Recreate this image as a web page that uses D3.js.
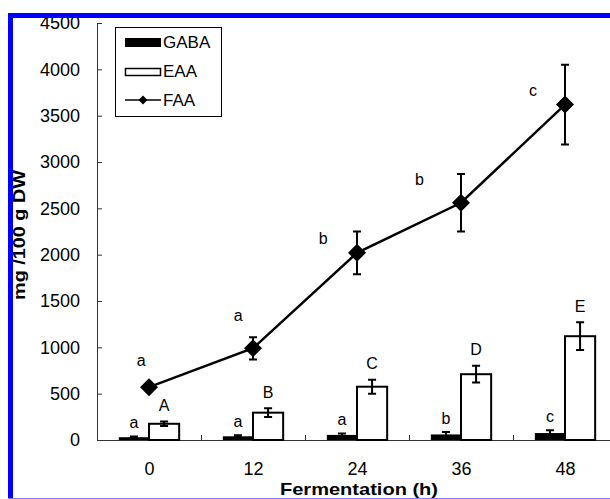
<!DOCTYPE html>
<html>
<head>
<meta charset="utf-8">
<style>
    body { margin: 0; background: #fff; }
    text { font-family: 'Liberation Sans', Arial, sans-serif; fill: #000; }
</style>
</head>
<body>
<script src="https://d3js.org/d3.v7.min.js"></script>
<script>
    // fermentation times (h)
    var hours = [0, 12, 24, 36, 48];

    // GABA, mg/100 g DW
    var gaba = [30, 40, 55, 60, 75];
    var gabaErr = [8, 12, 15, 25, 30];
    var gabaLetters = ['a', 'a', 'a', 'b', 'c'];

    // EAA
    var eaa = [175, 295, 575, 710, 1120];
    var eaaErr = [25, 48, 75, 90, 150];
    var eaaLetters = ['A', 'B', 'C', 'D', 'E'];

    // FAA
    var faa = [570, 990, 2020, 2560, 3620];
    var faaErr = [40, 120, 230, 310, 430];
    var faaLetters = ['a', 'a', 'b', 'b', 'c'];
    // where the FAA letters sit, in hours / mg
    var faaLetterHour = [-0.9, 10.3, 20.1, 31.2, 44.3];
    var faaLetterVal = [860, 1350, 2180, 2815, 3775];

    var yTicks = [0, 500, 1000, 1500, 2000, 2500, 3000, 3500, 4000, 4500];
    var bounds = [6, 18, 30, 42, 54];

    var width = 610, height = 499;

    var svg = d3.select('body').append('svg')
        .attr('width', width)
        .attr('height', height);

    var x = d3.scaleLinear().domain([-6, 54]).range([97, 617]);
    var y = d3.scaleLinear().domain([0, 4500]).range([440, 23]);

    var band = x(12) - x(0);
    var barW = band * 0.29;

    // axes
    var yAxis = svg.append('g')
        .attr('transform', 'translate(' + x(-6) + ',0)')
        .call(d3.axisLeft(y).tickValues(yTicks).tickFormat(d3.format('d'))
            .tickSizeInner(-5).tickSizeOuter(0).tickPadding(17));
    yAxis.selectAll('text').style('font-size', '18px');

    var xAxis = svg.append('g')
        .attr('transform', 'translate(0,' + y(0) + ')')
        .call(d3.axisBottom(x).tickValues(bounds).tickSizeInner(-5).tickSizeOuter(0).tickFormat(''));

    var xLabels = svg.append('g')
        .attr('transform', 'translate(0,' + y(0) + ')')
        .call(d3.axisBottom(x).tickValues(hours).tickSize(0).tickPadding(22));
    xLabels.select('.domain').remove();
    xLabels.selectAll('text').style('font-size', '18px');

    svg.selectAll('.domain, .tick line').attr('stroke', '#333').attr('stroke-width', 1);

    var rows = hours.map((h, i) => ({
        h: h, gaba: gaba[i], gErr: gabaErr[i], gL: gabaLetters[i],
        eaa: eaa[i], eErr: eaaErr[i], eL: eaaLetters[i],
        faa: faa[i], fErr: faaErr[i], fL: faaLetters[i],
        lh: faaLetterHour[i], lv: faaLetterVal[i]
    }));

    // bars
    svg.selectAll('rect.gaba')
        .data(rows)
        .enter().append('rect')
        .attr('class', 'gaba')
        .attr('x', d => x(d.h) - barW)
        .attr('y', d => y(d.gaba))
        .attr('width', barW)
        .attr('height', d => y(0) - y(d.gaba))
        .attr('fill', '#000');

    svg.selectAll('rect.eaa')
        .data(rows)
        .enter().append('rect')
        .attr('class', 'eaa')
        .attr('x', d => x(d.h))
        .attr('y', d => y(d.eaa))
        .attr('width', barW)
        .attr('height', d => y(0) - y(d.eaa))
        .attr('fill', '#fff')
        .attr('stroke', '#000')
        .attr('stroke-width', 2);

    function errBar(g, cx, v, e) {
        var p = 'M' + (cx - 4) + ',' + y(v + e) + 'H' + (cx + 4) +
            'M' + cx + ',' + y(v + e) + 'V' + y(v - e) +
            'M' + (cx - 4) + ',' + y(v - e) + 'H' + (cx + 4);
        g.append('path').attr('d', p).attr('stroke', '#000').attr('stroke-width', 2).attr('fill', 'none');
    }

    var errs = svg.append('g');
    rows.forEach(d => {
        errBar(errs, x(d.h) - barW / 2, d.gaba, d.gErr);
        errBar(errs, x(d.h) + barW / 2, d.eaa, d.eErr);
    });

    // FAA line
    var line = d3.line()
        .x(d => x(d.h))
        .y(d => y(d.faa));

    svg.append('path')
        .datum(rows)
        .attr('d', line)
        .attr('fill', 'none')
        .attr('stroke', '#000')
        .attr('stroke-width', 2.5);

    svg.selectAll('path.dia')
        .data(rows)
        .enter().append('path')
        .attr('class', 'dia')
        .attr('transform', d => 'translate(' + x(d.h) + ',' + y(d.faa) + ')')
        .attr('d', 'M0,-9L9,0L0,9L-9,0Z')
        .attr('fill', '#000');

    var faaErrs = svg.append('g');
    rows.forEach(d => errBar(faaErrs, x(d.h), d.faa, d.fErr));

    // significance letters
    svg.selectAll('text.gl')
        .data(rows)
        .enter().append('text')
        .attr('class', 'gl')
        .attr('x', d => x(d.h) - barW / 2)
        .attr('y', d => y(d.gaba + d.gErr) - 14)
        .attr('dy', '0.35em')
        .attr('text-anchor', 'middle')
        .style('font-size', '16px')
        .text(d => d.gL);

    svg.selectAll('text.el')
        .data(rows)
        .enter().append('text')
        .attr('class', 'el')
        .attr('x', d => x(d.h) + barW / 2)
        .attr('y', d => y(d.eaa + d.eErr) - 16)
        .attr('dy', '0.35em')
        .attr('text-anchor', 'middle')
        .style('font-size', '16px')
        .text(d => d.eL);

    svg.selectAll('text.fl')
        .data(rows)
        .enter().append('text')
        .attr('class', 'fl')
        .attr('x', d => x(d.lh))
        .attr('y', d => y(d.lv))
        .attr('dy', '0.35em')
        .attr('text-anchor', 'middle')
        .style('font-size', '16px')
        .text(d => d.fL);

    // legend
    var lg = svg.append('g');
    lg.append('rect')
        .attr('x', 115.5).attr('y', 27.5).attr('width', 106).attr('height', 89)
        .attr('fill', '#fff').attr('stroke', '#000').attr('stroke-width', 1);
    lg.append('rect').attr('x', 125).attr('y', 38).attr('width', 36).attr('height', 9).attr('fill', '#000');
    lg.append('rect').attr('x', 125.5).attr('y', 68.5).attr('width', 35).attr('height', 7)
        .attr('fill', '#fff').attr('stroke', '#000').attr('stroke-width', 1.5);
    lg.append('line').attr('x1', 125).attr('x2', 161).attr('y1', 100).attr('y2', 100)
        .attr('stroke', '#000').attr('stroke-width', 1.5);
    lg.append('path').attr('transform', 'translate(143,100)').attr('d', 'M0,-4.5L4.5,0L0,4.5L-4.5,0Z').attr('fill', '#000');
    [['GABA', 48], ['EAA', 77], ['FAA', 106]].forEach(t => {
        lg.append('text').attr('x', 163).attr('y', t[1]).style('font-size', '17px').text(t[0]);
    });

    // axis titles
    svg.append('text')
        .attr('transform', 'translate(25,235) rotate(-90)')
        .attr('text-anchor', 'middle')
        .attr('textLength', 130)
        .attr('lengthAdjust', 'spacingAndGlyphs')
        .style('font-size', '17px')
        .style('font-weight', 'bold')
        .text('mg /100 g DW');

    svg.append('text')
        .attr('x', 359)
        .attr('y', 495)
        .attr('text-anchor', 'middle')
        .attr('textLength', 158)
        .attr('lengthAdjust', 'spacingAndGlyphs')
        .style('font-size', '17px')
        .style('font-weight', 'bold')
        .text('Fermentation (h)');

    // blue frame of the cropped figure
    svg.append('rect').attr('x', 8).attr('y', 13).attr('width', width - 8).attr('height', 5).attr('fill', '#0000ff');
    svg.append('rect').attr('x', 8).attr('y', 13).attr('width', 5).attr('height', height - 13).attr('fill', '#0000ff');
    svg.append('rect').attr('x', 8).attr('y', 498).attr('width', width - 8).attr('height', 1).attr('fill', '#7f7fff');
</script>
</body>
</html>
